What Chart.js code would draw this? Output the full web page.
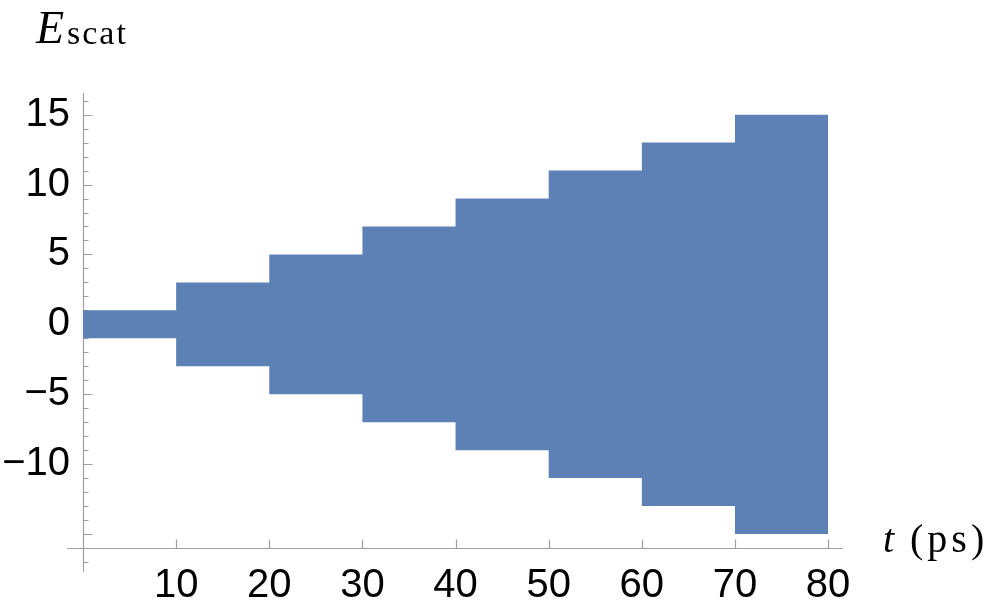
<!DOCTYPE html>
<html>
<head>
<meta charset="utf-8">
<script src="https://cdn.jsdelivr.net/npm/chart.js@4.4.0/dist/chart.umd.min.js"></script>
<style>
html, body { margin: 0; padding: 0; background: #fff; }
#wrap { position: relative; width: 997px; height: 610px; }
</style>
</head>
<body>
<div id="wrap"><canvas id="escat"></canvas></div>
<script>
// start of each 10 ps step and the envelope of E_scat in it (last point closes the final step)
const stepTimes = [0, 10, 20, 30, 40, 50, 60, 70, 80]
const upperEnv = [1, 3, 5, 7, 9, 11, 13, 15, 15]
const lowerEnv = [-1, -3, -5, -7, -9, -11, -13, -15, -15]

// labelled ticks
const xTickValues = [10, 20, 30, 40, 50, 60, 70, 80]
const yTickValues = [-10, -5, 0, 5, 10, 15]

const bandColor = 'rgb(94,129,181)'
const axisColor = '#a0a0a0'

const upperPts = stepTimes.map((t, i) => ({ x: t, y: upperEnv[i] }))
const lowerPts = stepTimes.map((t, i) => ({ x: t, y: lowerEnv[i] }))

// Mathematica style axes: crossing at (0, -16), ticks pointing inward
const mmaAxes = {
    id: 'mmaAxes',
    beforeDatasetsDraw(chart) {
        const ctx = chart.ctx
        const xs = chart.scales.x
        const ys = chart.scales.y
        const x0 = Math.round(xs.getPixelForValue(0)) + 0.5
        const yAx = Math.round(ys.getPixelForValue(-16)) + 0.5
        ctx.save()
        ctx.strokeStyle = axisColor
        ctx.lineWidth = 1.2
        ctx.beginPath()
        ctx.moveTo(xs.getPixelForValue(-1.7), yAx)
        ctx.lineTo(xs.right, yAx)
        ctx.moveTo(x0, ys.top)
        ctx.lineTo(x0, ys.getPixelForValue(-17.7))
        for (let v = -17; v <= 16; v++) {
            const p = Math.round(ys.getPixelForValue(v)) + 0.5
            const len = v % 5 === 0 ? 9 : 5
            ctx.moveTo(x0, p)
            ctx.lineTo(x0 + len, p)
        }
        xTickValues.forEach(v => {
            const p = Math.round(xs.getPixelForValue(v)) + 0.5
            ctx.moveTo(p, yAx)
            ctx.lineTo(p, yAx - 9)
        })
        ctx.stroke()
        ctx.restore()
    },
    afterDraw(chart) {
        const ctx = chart.ctx
        ctx.save()
        ctx.fillStyle = '#000'
        ctx.textBaseline = 'alphabetic'
        // y axis label
        ctx.font = 'italic 46px "Liberation Serif"'
        ctx.fillText('E', 36, 43)
        ctx.font = '34px "Liberation Serif"'
        ctx.letterSpacing = '2px'
        ctx.fillText('scat', 67, 44)
        // x axis label
        ctx.letterSpacing = '0px'
        ctx.font = 'italic 40px "Liberation Serif"'
        ctx.fillText('t', 883, 552)
        ctx.font = '40px "Liberation Serif"'
        ctx.letterSpacing = '4px'
        ctx.fillText('(ps)', 910, 552)
        ctx.restore()
    }
}

const config = {
    type: 'line',
    data: {
        datasets: [{
            label: 'upper',
            data: upperPts,
            stepped: 'before',
            borderWidth: 0,
            pointRadius: 0,
            backgroundColor: bandColor,
            borderColor: bandColor,
            fill: '+1',
            clip: false
        }, {
            label: 'lower',
            data: lowerPts,
            stepped: 'before',
            borderWidth: 0,
            pointRadius: 0,
            backgroundColor: bandColor,
            borderColor: bandColor,
            fill: false,
            clip: false
        }]
    },
    options: {
        responsive: true,
        maintainAspectRatio: false,
        animation: false,
        layout: { padding: { left: 0, top: 93, right: 154, bottom: 0 } },
        plugins: { legend: { display: false }, tooltip: { enabled: false } },
        scales: {
            x: {
                type: 'linear',
                min: 0,
                max: 81.6,
                grid: { display: false, drawTicks: false, tickLength: 0 },
                border: { display: false },
                afterFit: s => { s.height = 62 },
                afterBuildTicks: s => { s.ticks = xTickValues.map(v => ({ value: v })) },
                ticks: {
                    autoSkip: false,
                    maxRotation: 0,
                    padding: 14,
                    color: '#000',
                    font: { family: '"Liberation Sans"', size: 40 }
                }
            },
            y: {
                type: 'linear',
                min: -16,
                max: 16.55,
                grid: { display: false, drawTicks: false, tickLength: 0 },
                border: { display: false },
                afterFit: s => { s.width = 83 },
                afterBuildTicks: s => { s.ticks = yTickValues.map(v => ({ value: v })) },
                ticks: {
                    autoSkip: false,
                    padding: 13,
                    color: '#000',
                    font: { family: '"Liberation Sans"', size: 40 },
                    callback: v => v < 0 ? '\u2212' + Math.abs(v) : String(v)
                }
            }
        }
    },
    plugins: [mmaAxes]
}

const chart = new Chart(document.getElementById('escat'), config)
</script>
</body>
</html>
